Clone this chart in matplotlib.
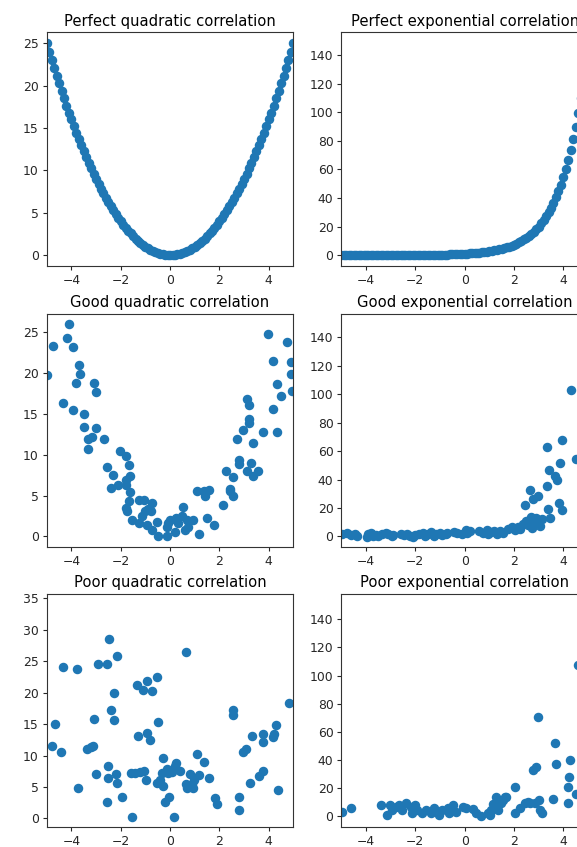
import numpy as np
import matplotlib
matplotlib.use("Agg")
import matplotlib.pyplot as plt

# perfect curves, x in steps of 0.1
x_perfect = [-5.0, -4.9, -4.8, -4.7, -4.6, -4.5, -4.4, -4.3, -4.2, -4.1,
             -4.0, -3.9, -3.8, -3.7, -3.6, -3.5, -3.4, -3.3, -3.2, -3.1,
             -3.0, -2.9, -2.8, -2.7, -2.6, -2.5, -2.4, -2.3, -2.2, -2.1,
             -2.0, -1.9, -1.8, -1.7, -1.6, -1.5, -1.4, -1.3, -1.2, -1.1,
             -1.0, -0.9, -0.8, -0.7, -0.6, -0.5, -0.4, -0.3, -0.2, -0.1,
             0.0, 0.1, 0.2, 0.3, 0.4, 0.5, 0.6, 0.7, 0.8, 0.9,
             1.0, 1.1, 1.2, 1.3, 1.4, 1.5, 1.6, 1.7, 1.8, 1.9,
             2.0, 2.1, 2.2, 2.3, 2.4, 2.5, 2.6, 2.7, 2.8, 2.9,
             3.0, 3.1, 3.2, 3.3, 3.4, 3.5, 3.6, 3.7, 3.8, 3.9,
             4.0, 4.1, 4.2, 4.3, 4.4, 4.5, 4.6, 4.7, 4.8, 4.9, 5.0]
y_perfect_quad = [25.0, 24.01, 23.04, 22.09, 21.16, 20.25, 19.36, 18.49, 17.64, 16.81,
                  16.0, 15.21, 14.44, 13.69, 12.96, 12.25, 11.56, 10.89, 10.24, 9.61,
                  9.0, 8.41, 7.84, 7.29, 6.76, 6.25, 5.76, 5.29, 4.84, 4.41,
                  4.0, 3.61, 3.24, 2.89, 2.56, 2.25, 1.96, 1.69, 1.44, 1.21,
                  1.0, 0.81, 0.64, 0.49, 0.36, 0.25, 0.16, 0.09, 0.04, 0.01,
                  0.0, 0.01, 0.04, 0.09, 0.16, 0.25, 0.36, 0.49, 0.64, 0.81,
                  1.0, 1.21, 1.44, 1.69, 1.96, 2.25, 2.56, 2.89, 3.24, 3.61,
                  4.0, 4.41, 4.84, 5.29, 5.76, 6.25, 6.76, 7.29, 7.84, 8.41,
                  9.0, 9.61, 10.24, 10.89, 11.56, 12.25, 12.96, 13.69, 14.44, 15.21,
                  16.0, 16.81, 17.64, 18.49, 19.36, 20.25, 21.16, 22.09, 23.04, 24.01, 25.0]
y_perfect_exp = [0.007, 0.007, 0.008, 0.009, 0.010, 0.011, 0.012, 0.014, 0.015, 0.017,
                 0.018, 0.020, 0.022, 0.025, 0.027, 0.030, 0.033, 0.037, 0.041, 0.045,
                 0.050, 0.055, 0.061, 0.067, 0.074, 0.082, 0.091, 0.100, 0.111, 0.122,
                 0.135, 0.150, 0.165, 0.183, 0.202, 0.223, 0.247, 0.273, 0.301, 0.333,
                 0.368, 0.407, 0.449, 0.497, 0.549, 0.607, 0.670, 0.741, 0.819, 0.905,
                 1.0, 1.105, 1.221, 1.350, 1.492, 1.649, 1.822, 2.014, 2.226, 2.460,
                 2.718, 3.004, 3.320, 3.669, 4.055, 4.482, 4.953, 5.474, 6.050, 6.686,
                 7.389, 8.166, 9.025, 9.974, 11.02, 12.18, 13.46, 14.88, 16.44, 18.17,
                 20.09, 22.20, 24.53, 27.11, 29.96, 33.12, 36.60, 40.45, 44.70, 49.40,
                 54.60, 60.34, 66.69, 73.70, 81.45, 90.02, 99.48, 109.9, 121.5, 134.3, 148.4]

# good quadratic
x_good_quad = [-5.0, -4.73, -4.08, -4.19, -3.92, -4.32, -3.95, -3.69, -3.65, -3.82,
               -3.49, -3.49, -3.34, -3.18, -3.34, -3.09, -3.0, -3.0, -2.66, -2.57,
               -2.30, -2.41, -2.09, -2.03, -1.78, -1.68, -1.62, -1.78, -1.78, -1.62,
               -1.68, -1.78, -1.76, -1.55, -1.24, -1.05, -1.24, -1.15, -1.01, -0.88,
               -0.74, -0.77, -0.95, -0.74, -0.54, -0.47, -0.14, -0.11, -0.07, 0.0,
               0.2, 0.24, 0.34, 0.47, 0.54, 0.61, 0.68, 0.74, 0.92, 1.19,
               1.08, 1.42, 1.38, 1.59, 1.51, 1.78, 2.43, 2.16, 2.27, 2.43,
               2.57, 2.57, 2.73, 2.78, 2.78, 2.97, 3.11, 3.18, 3.18, 3.18,
               3.11, 3.27, 3.35, 3.38, 3.55, 3.78, 3.99, 4.19, 4.19, 4.32,
               4.32, 4.49, 4.73, 4.89, 4.89, 4.93]
y_good_quad = [19.7, 23.3, 25.9, 24.2, 23.1, 16.3, 15.4, 20.9, 19.8, 18.8,
               15.0, 13.4, 11.9, 12.1, 10.7, 18.8, 17.6, 13.3, 11.9, 8.5,
               7.5, 5.9, 6.25, 10.4, 9.8, 8.7, 7.35, 6.9, 6.3, 5.4,
               4.3, 3.5, 3.1, 2.0, 4.5, 4.4, 1.6, 2.45, 3.1, 3.3,
               4.1, 3.1, 1.4, 0.8, 1.8, 0.0, 0.1, 1.2, 1.7, 2.0,
               0.5, 2.25, 1.6, 2.45, 3.6, 0.8, 2.0, 1.2, 2.0, 0.3,
               5.5, 4.9, 5.5, 5.7, 2.25, 1.35, 5.5, 3.9, 8.0, 5.8,
               5.0, 7.3, 11.9, 9.3, 8.9, 13.0, 16.8, 16.1, 14.4, 13.8,
               8.0, 9.0, 11.4, 7.35, 8.0, 12.7, 24.7, 21.4, 15.6, 12.7,
               18.6, 17.2, 23.7, 21.3, 19.8, 17.8]

# good exponential
x_good_exp = [-4.98, -4.75, -4.6, -4.45, -4.35, -3.95, -3.9, -3.8, -3.7, -3.6,
              -3.5, -3.35, -3.2, -3.1, -2.95, -2.9, -2.6, -2.45, -2.35, -2.2,
              -2.1, -2.0, -1.85, -1.7, -1.6, -1.5, -1.35, -1.25, -1.15, -1.0,
              -0.9, -0.75, -0.7, -0.45, -0.3, -0.1, 0.05, 0.1, 0.2, 0.6,
              0.75, 0.9, 0.95, 1.05, 1.2, 1.3, 1.45, 1.55, 1.75, 1.9,
              2.05, 2.15, 2.25, 2.35, 2.44, 2.5, 2.55, 2.64, 2.7, 2.72,
              2.78, 2.85, 2.9, 2.96, 3.0, 3.05, 3.13, 3.32, 3.32, 3.39,
              3.43, 3.46, 3.66, 3.73, 3.82, 3.87, 3.93, 3.93, 4.3, 4.52]
y_good_exp = [1.5, 2.5, 1.0, 1.8, 0.6, -0.5, 1.8, 2.2, 0.3, 1.2,
              0.5, 1.5, 2.4, 1.7, 0.2, 1.0, 1.9, 0.7, 1.4, 0.2,
              -0.3, 0.8, 1.9, 2.5, 0.6, 1.7, 2.8, 0.2, 1.4, 2.5,
              0.9, 1.5, 2.2, 3.0, 2.7, 1.6, 4.5, 2.3, 3.5, 3.8,
              2.5, 4.8, 1.8, 2.8, 3.5, 1.6, 4.0, 2.5, 5.0, 6.3,
              4.5, 6.8, 5.5, 9.0, 22.3, 10.5, 8.0, 32.9, 14.0, 6.0,
              26.5, 9.5, 13.0, 28.6, 11.0, 7.5, 12.0, 62.6, 35.2, 19.3,
              46.4, 12.9, 42.7, 39.9, 23.5, 51.6, 67.6, 18.3, 102.7, 54.5]

# poor quadratic
x_poor_quad = [-4.8, -4.66, -4.42, -4.32, -3.78, -3.74, -3.35, -3.22, -3.11, -3.08,
               -3.0, -2.91, -2.54, -2.46, -2.41, -2.5, -2.5, -2.57, -2.16, -2.26,
               -2.26, -2.2, -2.16, -1.96, -1.53, -1.58, -1.42, -1.22, -1.04, -0.97,
               -1.32, -1.08, -0.95, -0.72, -0.54, -1.28, -0.92, -0.81, -0.5, -0.54,
               -0.41, -0.34, -0.3, -0.27, -0.2, -0.14, -0.07, -0.03, 0.07, 0.14,
               0.2, 0.24, 0.41, 0.64, 0.64, 0.68, 0.81, 0.88, 0.95, 0.99,
               1.08, 1.19, 1.39, 1.59, 1.82, 1.92, 2.57, 2.57, 2.81, 2.81,
               2.97, 3.07, 3.24, 3.31, 3.61, 3.78, 3.76, 3.78, 4.16, 4.22,
               4.3, 4.39, 4.84]
y_poor_quad = [11.6, 15.0, 10.6, 24.1, 23.7, 4.9, 11.1, 11.4, 11.6, 15.75,
               7.05, 24.5, 24.5, 28.6, 17.3, 8.3, 6.5, 2.65, 25.8, 20.0,
               15.6, 7.0, 5.7, 3.4, 0.3, 7.3, 7.3, 7.4, 7.5, 6.1,
               21.2, 20.4, 21.8, 20.3, 22.5, 13.1, 13.6, 12.5, 15.4, 5.6,
               6.1, 7.2, 5.2, 9.65, 2.65, 7.95, 7.2, 3.35, 7.4, 0.3,
               8.3, 8.85, 7.5, 26.4, 5.5, 4.8, 7.05, 5.5, 4.8, 6.1,
               10.2, 6.9, 9.0, 6.4, 3.3, 2.3, 17.2, 16.4, 3.45, 1.3,
               10.6, 11.0, 5.7, 13.1, 6.7, 7.5, 13.4, 12.2, 13.0, 13.5,
               14.85, 4.6, 18.3]

# poor exponential
x_poor_exp = [-4.98, -4.61, -3.41, -3.14, -3.01, -2.94, -2.80, -2.67, -2.53, -2.39,
              -2.19, -2.01, -2.12, -1.92, -1.71, -1.58, -1.37, -1.24, -1.03, -0.9,
              -0.69, -0.63, -0.49, -0.35, -0.08, 0.05, 0.33, 0.46, 0.67, 0.94,
              1.01, 1.07, 1.14, 1.21, 1.28, 1.35, 1.41, 1.49, 1.55, 1.62,
              1.66, 2.03, 2.03, 2.23, 2.44, 2.55, 2.64, 2.78, 2.84, 2.91,
              2.98, 3.02, 3.05, 3.12, 3.6, 3.66, 3.70, 4.17, 4.17, 4.21,
              4.27, 4.5, 4.58]
y_poor_exp = [3.1, 5.5, 7.8, 0.7, 7.8, 4.3, 6.6, 7.8, 4.3, 9.5,
              6.6, 7.8, 1.9, 4.3, 1.9, 4.3, 1.9, 5.5, 0.7, 4.3,
              5.5, 1.9, 7.8, 3.1, 6.6, 5.5, 4.7, 1.9, 0.0, 1.9,
              0.7, 4.3, 8.5, 6.6, 13.7, 4.3, 9.0, 9.0, 11.4, 13.7,
              13.8, 20.9, 1.9, 5.5, 9.0, 10.2, 9.0, 33.0, 9.0, 34.6,
              70.5, 11.4, 4.3, 1.9, 11.9, 51.7, 37.0, 20.9, 9.5, 27.5,
              39.9, 15.7, 107.3]

quad_ticks = None
exp_ticks = [0, 20, 40, 60, 80, 100, 120, 140]

panels = [
    ("Perfect quadratic correlation", x_perfect, y_perfect_quad, (-1.25, 26.25), quad_ticks),
    ("Perfect exponential correlation", x_perfect, y_perfect_exp, (-7.4, 155.8), exp_ticks),
    ("Good quadratic correlation", x_good_quad, y_good_quad, (-1.3, 27.2), quad_ticks),
    ("Good exponential correlation", x_good_exp, y_good_exp, (-7.5, 156.5), exp_ticks),
    ("Poor quadratic correlation", x_poor_quad, y_poor_quad, (-1.4, 35.7), quad_ticks),
    ("Poor exponential correlation", x_poor_exp, y_poor_exp, (-8.0, 158.0), exp_ticks),
]

W, H = 577, 847
fig = plt.figure(figsize=(W / 100, H / 100), dpi=100)

# axes boxes in pixels (left, top, width, height); right column runs past the edge
col_left = [46.7, 341.3]
row_top = [32.5, 313.8, 594.0]
ax_w, ax_h = 246.7, 233.3

for i, (title, xs, ys, ylim, yticks) in enumerate(panels):
    r, c = divmod(i, 2)
    left = col_left[c] / W
    bottom = (H - row_top[r] - ax_h) / H
    ax = fig.add_axes([left, bottom, ax_w / W, ax_h / H])
    ax.scatter(xs, ys, s=34, color="#1f77b4")
    ax.set_xlim(-5, 5)
    ax.set_ylim(*ylim)
    ax.set_xticks([-4, -2, 0, 2, 4])
    if yticks is not None:
        ax.set_yticks(yticks)
    ax.tick_params(labelsize=8.9, length=3.1, pad=2.6, colors="#262626")
    for sp in ax.spines.values():
        sp.set_color("#333333")
    ax.set_title(title, fontsize=10.6, pad=5)

fig.savefig("out.png", dpi=100)
